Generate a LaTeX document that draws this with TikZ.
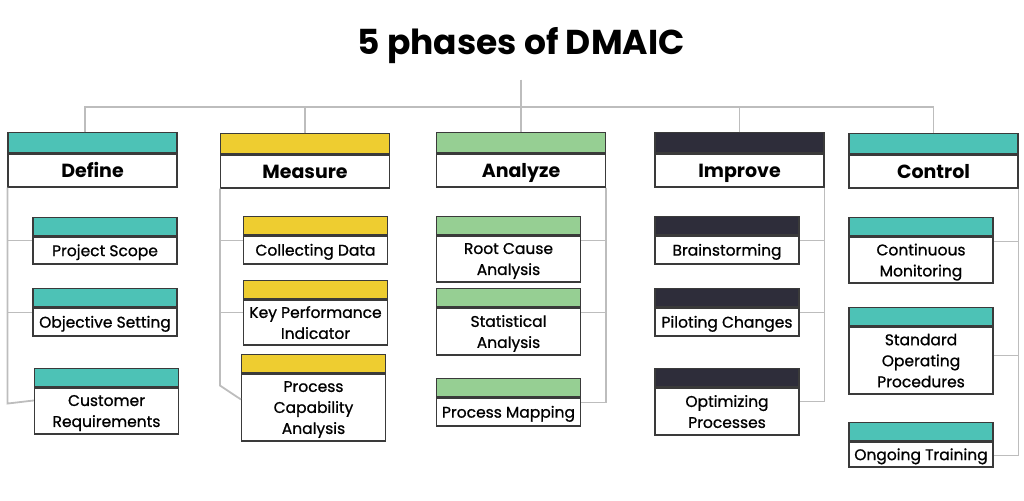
\documentclass[tikz,border=0pt]{standalone}
\usepackage{fontspec}
\setmainfont{Poppins}
\newfontfamily\itemfont{Poppins}[FakeBold=0.9]
\usetikzlibrary{positioning,calc}

\definecolor{dteal}{HTML}{4DC2B6}
\definecolor{dyellow}{HTML}{EECD30}
\definecolor{dgreen}{HTML}{96CF93}
\definecolor{ddark}{HTML}{2E2D3A}
\definecolor{dline}{HTML}{BDBDBD}
\definecolor{dedge}{HTML}{3A3A3A}

\tikzset{
    head/.style={draw=dedge, line width=1.1pt, fill=white, minimum width=169pt,
        minimum height=33pt, inner sep=0pt, text height=13.5pt, text depth=0.2pt,
        font=\bfseries\fontsize{19}{22}\selectfont},
    headbar/.style={draw=dedge, line width=1.1pt, minimum width=169pt,
        minimum height=20pt, inner sep=0pt},
    item/.style={draw=dedge, line width=1.1pt, fill=white, minimum width=144pt,
        inner sep=0pt, align=center, text depth=0pt,
        font=\itemfont\fontsize{15.5}{21}\selectfont},
    oneline/.style={item, text height=11.3pt},
    itembar/.style={draw=dedge, line width=1.1pt, minimum width=144pt,
        minimum height=18pt, inner sep=0pt},
    link/.style={draw=dline, line width=1.8pt}
}

\begin{document}
\begin{tikzpicture}[x=1pt, y=-1pt]
    \useasboundingbox (0,0) rectangle (1024,500);
    % Title
    \node[font=\bfseries\fontsize{34.5}{40}\selectfont] (title) at (521,46) {5 phases of DMAIC};
    \coordinate (hub) at (521,107);
    % Phases
    \node[head] (def) at (92.5,170.5) {Define};
    \node[headbar, fill=dteal, above=0pt of def] (def-bar) {};
    \node[head] (mea) at (305,171.5) {Measure};
    \node[headbar, fill=dyellow, above=0pt of mea] (mea-bar) {};
    \node[head] (ana) at (521,170.5) {Analyze};
    \node[headbar, fill=dgreen, above=0pt of ana] (ana-bar) {};
    \node[head] (imp) at (739.5,170.5) {Improve};
    \node[headbar, fill=ddark, above=0pt of imp] (imp-bar) {};
    \node[head] (ctl) at (933.5,171.5) {Control};
    \node[headbar, fill=dteal, above=0pt of ctl] (ctl-bar) {};
    % Tree
    \draw[link, shorten <=12pt] (title.south) -- (hub);
    \draw[link] ([xshift=-7.5pt]def-bar.north) |- (hub) -| (ctl-bar.north);
    \draw[link] (mea-bar.north) |- (hub);
    \draw[link] (ana-bar.north) -- (hub);
    \draw[link] (imp-bar.north) |- (hub);
    % Define
    \node[oneline, minimum height=27pt] (ps) at (105,250.5) {Project Scope};
    \node[itembar, fill=dteal, above=0pt of ps] {};
    \node[oneline, minimum height=28pt] (os) at (105,322) {Objective Setting};
    \node[itembar, fill=dteal, above=0pt of os] {};
    \node[item, minimum height=46pt] (cr) at (106.5,411) {Customer\\Requirements};
    \node[itembar, fill=dteal, above=0pt of cr] {};
    % Measure
    \node[oneline, minimum height=28pt] (cd) at (315.5,250) {Collecting Data};
    \node[itembar, fill=dyellow, above=0pt of cd] {};
    \node[item, minimum height=45pt] (kpi) at (315.5,322.5) {Key Performance\\Indicator};
    \node[itembar, fill=dyellow, above=0pt of kpi] {};
    \node[item, minimum height=67pt] (pca) at (313.5,407.5) {Process\\Capability\\Analysis};
    \node[itembar, fill=dyellow, above=0pt of pca] {};
    % Analyze
    \node[item, minimum height=46pt] (rca) at (508.5,259) {Root Cause\\Analysis};
    \node[itembar, fill=dgreen, above=0pt of rca] {};
    \node[item, minimum height=47pt] (sa) at (508.5,331.5) {Statistical\\Analysis};
    \node[itembar, fill=dgreen, above=0pt of sa] {};
    \node[oneline, minimum height=28pt] (pm) at (508.5,412) {Process Mapping};
    \node[itembar, fill=dgreen, above=0pt of pm] {};
    % Improve
    \node[oneline, minimum height=28pt] (bs) at (727,250) {Brainstorming};
    \node[itembar, fill=ddark, above=0pt of bs] {};
    \node[oneline, minimum height=28pt] (pc) at (727,322) {Piloting Changes};
    \node[itembar, fill=ddark, above=0pt of pc] {};
    \node[item, minimum height=47pt] (op) at (727,411.5) {Optimizing\\Processes};
    \node[itembar, fill=ddark, above=0pt of op] {};
    % Control
    \node[item, minimum height=46pt] (cm) at (921,260) {Continuous\\Monitoring};
    \node[itembar, fill=dteal, above=0pt of cm] {};
    \node[item, minimum height=67pt] (sop) at (921,360.5) {Standard\\Operating\\Procedures};
    \node[itembar, fill=dteal, above=0pt of sop] {};
    \node[oneline, minimum height=25pt] (ot) at (921,454.5) {Ongoing Training};
    \node[itembar, fill=dteal, above=0pt of ot] {};
    % Branches
    \draw[link] (def.south west) |- ($(ps.north west)+(0,4)$);
    \draw[link] (def.south west) |- ($(os.north west)+(0,5)$);
    \draw[link] (def.south west) -- ++(0,216) -- ($(cr.north west)+(0,13)$);
    \draw[link] (mea.south west) |- ($(cd.north west)+(0,5)$);
    \draw[link] (mea.south west) |- ($(kpi.north west)+(0,13)$);
    \draw[link] (mea.south west) -- ++(0,197) -- ($(pca.north west)+(0,26)$);
    \draw[link] (ana.south east) |- ($(rca.north east)+(0,5)$);
    \draw[link] (ana.south east) |- ($(sa.north east)+(0,5)$);
    \draw[link] (ana.south east) |- ($(pm.north east)+(0,5)$);
    \draw[link] (imp.south east) |- ($(bs.north east)+(0,5)$);
    \draw[link] (imp.south east) |- ($(pc.north east)+(0,5)$);
    \draw[link] (imp.south east) |- ($(op.north east)+(0,14)$);
    \draw[link] (ctl.south east) |- ($(cm.north east)+(0,5)$);
    \draw[link] (ctl.south east) |- ($(sop.north east)+(0,29)$);
    \draw[link] (ctl.south east) |- ($(ot.north east)+(0,14)$);
\end{tikzpicture}
\end{document}
